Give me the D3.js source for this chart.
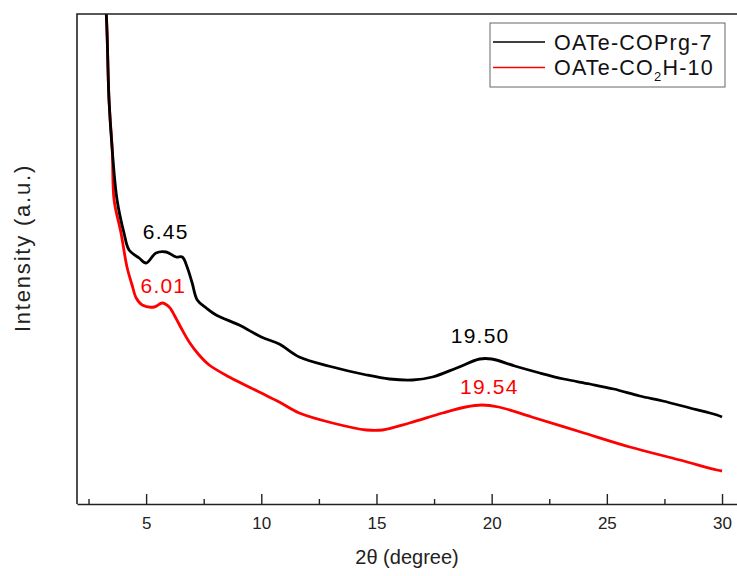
<!DOCTYPE html>
<html>
<head>
<meta charset="utf-8">
<script src="https://cdn.jsdelivr.net/npm/d3@7"></script>
<style>
  body { margin: 0; background: #fff; }
  svg { font-family: "Liberation Sans", Arial, sans-serif; }
</style>
</head>
<body>
<div id="chart"></div>
<script>
"use strict";

// 2theta values (degree) and intensities (a.u.)
var blackX = [3.17, 3.27, 3.39, 3.53, 3.74, 4.04, 4.26, 4.70, 5.00, 5.43, 5.87, 6.30, 6.57, 6.78, 7.00, 7.22, 7.61, 8.04, 9.04, 10.0, 10.78, 11.65, 13.09, 14.57, 15.57, 16.57, 17.43, 18.48, 19.48, 20.0, 21.0, 22.09, 23.13, 24.26, 25.30, 26.43, 27.43, 28.61, 29.78, 30.0];
var blackY = [514, 490, 404, 354, 304, 271, 254, 246, 241, 251, 252, 247, 247, 237, 221, 204, 196, 189, 179, 167, 160, 147, 137, 129, 125, 124, 127, 136, 145, 145, 138, 131, 125, 120, 115, 108, 103, 96, 89, 87];

var redX = [3.17, 3.27, 3.39, 3.53, 3.61, 3.91, 4.17, 4.39, 4.57, 4.83, 5.35, 5.70, 6.00, 6.29, 6.52, 6.87, 7.30, 7.74, 8.61, 9.91, 10.78, 11.65, 13.09, 14.57, 15.26, 16.43, 17.87, 18.87, 19.57, 20.30, 21.74, 23.87, 26.0, 28.17, 29.78, 30.0];
var redY = [514, 490, 404, 354, 304, 271, 237, 219, 206, 199, 197, 201, 197, 186, 176, 162, 149, 139, 127, 112, 102, 91, 81, 74, 74, 81, 91, 97, 99, 97, 87, 72, 57, 44, 34, 33];

var seriesNames = ["OATe-COPrg-7", "OATe-CO2H-10"];
var seriesColors = ["#000000", "#ff0000"];

var peakLabels = ["6.45", "6.01", "19.50", "19.54"];
var peakX = [5.85, 5.75, 19.5, 19.9];
var peakY = [265, 211, 161, 110];
var peakColors = ["#000000", "#ff0000", "#000000", "#ff0000"];

var majorTicks = [5, 10, 15, 20, 25, 30];
var minorTicks = [2.5, 7.5, 12.5, 17.5, 22.5, 27.5];

var width = 737, height = 576;
var margin = { top: 14, right: 0, bottom: 72, left: 77 };
var w = width - margin.left - margin.right,
    h = height - margin.top - margin.bottom;

var x = d3.scaleLinear().domain([2, 30.65]).range([0, w]);
var y = d3.scaleLinear().domain([0, 490]).range([h, 0]);

var svg = d3.select("#chart").append("svg")
  .attr("width", width)
  .attr("height", height);

var g = svg.append("g")
  .attr("transform", "translate(" + margin.left + "," + margin.top + ")");

g.append("defs").append("clipPath").attr("id", "clip")
  .append("rect").attr("width", w).attr("height", h);

// lines
var line = d3.line()
  .x(function(d) { return x(d[0]); })
  .y(function(d) { return y(d[1]); })
  .curve(d3.curveCatmullRom.alpha(0.5));

var seriesData = [d3.zip(blackX, blackY), d3.zip(redX, redY)];

// draw red first so black sits on top near the shared start
[1, 0].forEach(function(i) {
  g.append("path")
    .datum(seriesData[i])
    .attr("clip-path", "url(#clip)")
    .attr("d", line)
    .attr("fill", "none")
    .attr("stroke", seriesColors[i])
    .attr("stroke-width", 2.8)
    .attr("stroke-linejoin", "round");
});

// frame: left, top, bottom
g.append("path")
  .attr("d", "M0," + h + "V0H" + w)
  .attr("fill", "none").attr("stroke", "#222").attr("stroke-width", 1.6);

// x axis with inward ticks
var xAxis = d3.axisBottom(x).tickValues(majorTicks).tickSizeInner(-10).tickSizeOuter(0).tickPadding(10);
var xg = g.append("g").attr("transform", "translate(0," + h + ")").call(xAxis);
xg.select(".domain").attr("stroke", "#222").attr("stroke-width", 1.6);
xg.selectAll(".tick line").attr("stroke", "#222").attr("stroke-width", 1.4);
xg.selectAll(".tick text").attr("fill", "#222").style("font-size", "17px").attr("dy", "0.9em");

var xMinor = d3.axisBottom(x).tickValues(minorTicks).tickSize(-5).tickFormat("");
var xm = g.append("g").attr("transform", "translate(0," + h + ")").call(xMinor);
xm.select(".domain").remove();
xm.selectAll(".tick line").attr("stroke", "#222").attr("stroke-width", 1.4);

// axis titles
svg.append("text")
  .attr("x", 407).attr("y", 564)
  .attr("text-anchor", "middle")
  .style("font-size", "20px").attr("fill", "#222")
  .text("2\u03B8 (degree)");

svg.append("text")
  .attr("transform", "translate(30,248) rotate(-90)")
  .attr("text-anchor", "middle")
  .style("font-size", "22px").style("letter-spacing", "1.8px").attr("fill", "#222")
  .text("Intensity (a.u.)");

// peak labels
for (let i = 0; i < peakLabels.length; i++) {
  g.append("text")
    .attr("x", x(peakX[i])).attr("y", y(peakY[i]))
    .attr("text-anchor", "middle")
    .style("font-size", "21px").style("letter-spacing", "1.2px")
    .attr("fill", peakColors[i])
    .text(peakLabels[i]);
}

// legend
var lg = svg.append("g").attr("transform", "translate(490,23)");
lg.append("rect").attr("width", 235).attr("height", 64)
  .attr("fill", "#fff").attr("stroke", "#666").attr("stroke-width", 1);
for (let i = 0; i < seriesNames.length; i++) {
  var ly = 19 + 25.5 * i;
  lg.append("line").attr("x1", 3).attr("x2", 55).attr("y1", ly).attr("y2", ly)
    .attr("stroke", seriesColors[i]).attr("stroke-width", 1.6);
  var t = lg.append("text").attr("x", 64).attr("y", ly + 7.5)
    .style("font-size", "21.5px").style("letter-spacing", "1.2px").attr("fill", "#111");
  if (i === 0) {
    t.text(seriesNames[i]);
  } else {
    t.append("tspan").text("OATe-CO");
    t.append("tspan").attr("dy", 6).style("font-size", "13px").text("2");
    t.append("tspan").attr("dy", -6).text("H-10");
  }
}
</script>
</body>
</html>
